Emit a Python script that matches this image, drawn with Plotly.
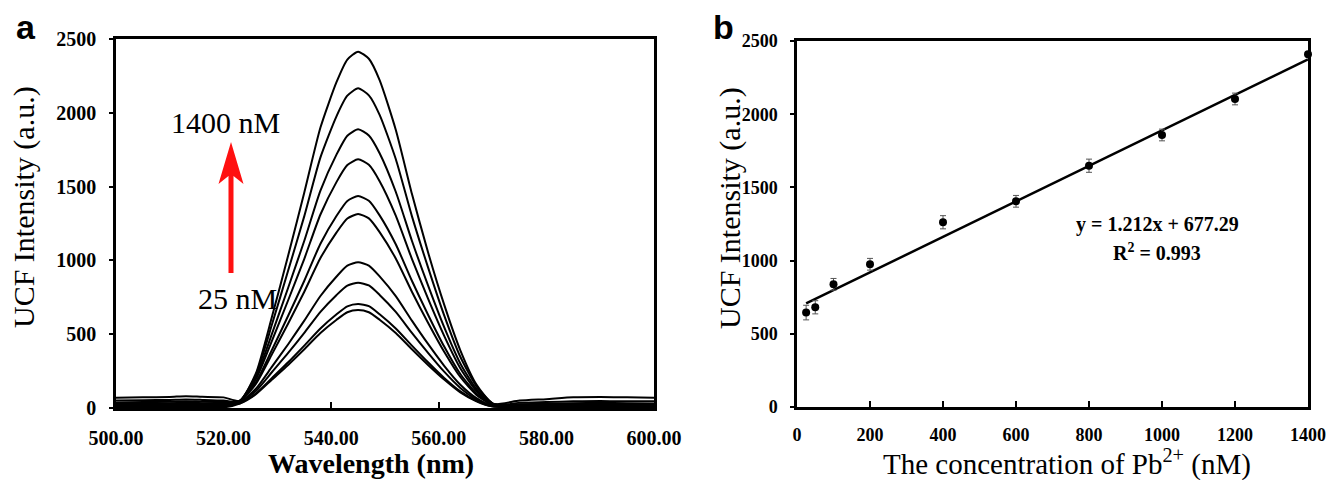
import plotly.graph_objects as go

# ---------------- Panel a: UCF emission spectra ----------------
wavelengths = [500, 505, 510, 513, 516, 520, 523, 526, 529, 532, 535, 538, 541, 543, 545,
               547, 549, 552, 555, 558, 561, 564, 567, 570, 575, 580, 585, 590, 595, 600]

spec_1400 = [14, 14, 15, 16, 15, 14, 41, 234, 620, 1033, 1460, 1900, 2209, 2361, 2414,
             2366, 2221, 1885, 1451, 1055, 700, 391, 159, 30, 10, 12, 12, 12, 11, 10]
spec_1200 = [8, 8, 9, 10, 9, 8, 45, 223, 567, 931, 1300, 1698, 1978, 2116, 2166,
             2118, 1986, 1687, 1300, 953, 628, 347, 147, 32, 8, 8, 8, 8, 8, 8]
spec_1000 = [25, 24, 25, 28, 26, 24, 48, 208, 504, 815, 1133, 1473, 1718, 1845, 1888,
             1846, 1726, 1465, 1133, 831, 548, 302, 128, 28, 18, 20, 22, 22, 20, 20]
spec_800 = [70, 72, 75, 80, 76, 72, 49, 194, 457, 730, 1011, 1311, 1532, 1646, 1685,
            1648, 1537, 1304, 1011, 741, 489, 270, 115, 26, 50, 60, 72, 74, 72, 70]
spec_600 = [10, 10, 11, 12, 11, 10, 47, 174, 395, 625, 862, 1113, 1302, 1403, 1436,
            1404, 1305, 1109, 862, 632, 416, 230, 98, 22, 6, 6, 6, 6, 6, 6]
spec_400 = [38, 40, 42, 45, 42, 40, 46, 163, 365, 573, 788, 1016, 1190, 1284, 1314,
            1285, 1192, 1013, 788, 578, 381, 210, 89, 20, 25, 28, 32, 34, 32, 30]
spec_200 = [50, 52, 55, 58, 55, 50, 40, 130, 280, 432, 592, 759, 891, 964, 987,
            965, 892, 758, 592, 434, 286, 158, 67, 15, 35, 40, 45, 48, 45, 45]
spec_100 = [18, 18, 20, 22, 20, 18, 36, 115, 244, 373, 509, 651, 766, 829, 849,
            830, 766, 651, 509, 374, 246, 136, 58, 13, 14, 15, 16, 16, 15, 15]
spec_50 = [30, 32, 33, 35, 33, 30, 31, 98, 204, 310, 423, 539, 635, 689, 705,
           690, 635, 539, 423, 310, 204, 113, 48, 11, 22, 25, 28, 28, 26, 25]
spec_25 = [4, 4, 5, 5, 5, 4, 30, 93, 193, 292, 398, 508, 598, 649, 664,
           649, 598, 508, 398, 292, 193, 106, 46, 10, 4, 4, 4, 4, 4, 4]

spectra = [spec_1400, spec_1200, spec_1000, spec_800, spec_600,
           spec_400, spec_200, spec_100, spec_50, spec_25]

# ---------------- Panel b: calibration ----------------
conc = [25, 50, 100, 200, 400, 600, 800, 1000, 1200, 1400]
intensity = [645, 681, 838, 975, 1262, 1405, 1648, 1858, 2104, 2409]
err = [50, 45, 40, 40, 45, 40, 45, 40, 40, 10]
SLOPE, INTERCEPT = 1.212, 677.29
fit_x = [conc[0], conc[-1]]
fit_y = [SLOPE * v + INTERCEPT for v in fit_x]

x_ticks_a = [500, 520, 540, 560, 580, 600]
y_ticks = [0, 500, 1000, 1500, 2000, 2500]
x_ticks_b = [0, 200, 400, 600, 800, 1000, 1200, 1400]

W, H = 1328, 480
def fx(p):
    return p / W
def fy(p):
    return 1 - p / H

SERIF = "Liberation Serif, Times New Roman, serif"
SANS = "Liberation Sans, Arial, sans-serif"

fig = go.Figure()
for s in spectra:
    fig.add_trace(go.Scatter(x=wavelengths, y=s, mode="lines",
                             line=dict(color="black", width=2, shape="spline", smoothing=0.6),
                             xaxis="x", yaxis="y", showlegend=False, hoverinfo="skip"))

fig.add_trace(go.Scatter(x=fit_x, y=fit_y, mode="lines",
                         line=dict(color="black", width=2.5),
                         xaxis="x2", yaxis="y2", showlegend=False))
fig.add_trace(go.Scatter(x=conc, y=intensity, mode="markers",
                         marker=dict(size=8, color="black"),
                         error_y=dict(type="data", array=err, color="#555555", thickness=1, width=3),
                         xaxis="x2", yaxis="y2", showlegend=False, cliponaxis=False))

axis_common = dict(showgrid=False, zeroline=False, showline=True, linecolor="black",
                   linewidth=2.5, mirror=True, tickcolor="black", tickwidth=2,
                   automargin=False, ticklabeloverflow="allow")

fig.update_layout(
    width=W, height=H,
    margin=dict(l=0, r=0, t=0, b=0, pad=0, autoexpand=False),
    paper_bgcolor="white", plot_bgcolor="white",
    showlegend=False,
    xaxis=dict(domain=[fx(116), fx(654)], anchor="y", range=[500, 600],
               tickvals=x_ticks_a, tickformat=".2f", ticks="inside", ticklen=6,
               ticklabelstandoff=10,
               tickfont=dict(family=SERIF, size=20, color="black", weight="bold"), **axis_common),
    yaxis=dict(domain=[fy(408), fy(39)], anchor="x", range=[0, 2500],
               tickvals=y_ticks, ticks="outside", ticklen=4, ticklabelstandoff=9,
               tickfont=dict(family=SERIF, size=20, color="black", weight="bold"), **axis_common),
    xaxis2=dict(domain=[fx(797), fx(1308)], anchor="y2", range=[0, 1400],
                tickvals=x_ticks_b, ticks="inside", ticklen=6, ticklabelstandoff=10,
                tickfont=dict(family=SERIF, size=18, color="black", weight="bold"), **axis_common),
    yaxis2=dict(domain=[fy(407), fy(41)], anchor="x2", range=[0, 2500],
                tickvals=y_ticks, ticks="outside", ticklen=4, ticklabelstandoff=9,
                tickfont=dict(family=SERIF, size=18, color="black", weight="bold"), **axis_common),
)

ann = []
def add_text(text, x, y, size, family=SERIF, bold=False, angle=0):
    ann.append(dict(text=text, x=fx(x), y=fy(y), xref="paper", yref="paper",
                    xanchor="center", yanchor="middle", showarrow=False, textangle=angle,
                    font=dict(family=family, size=size, color="black",
                              weight="bold" if bold else "normal")))

add_text("a", 26, 27, 34, family=SANS, bold=True)
add_text("b", 723, 27, 34, family=SANS, bold=True)
add_text("UCF Intensity (a.u.)", 24, 207, 30, angle=-90)
add_text("UCF Intensity (a.u.)", 730, 208, 30, angle=-90)
add_text("Wavelength (nm)", 371, 463, 28, bold=True)
add_text("The concentration of Pb<sup>2+</sup> (nM)", 1067, 462, 29)
add_text("1400 nM", 225, 122, 30)
add_text("25 nM", 237, 298, 30)
add_text("y = 1.212x + 677.29", 1157, 224, 20, bold=True)
add_text("R<sup>2</sup> = 0.993", 1157, 252, 20, bold=True)
fig.update_layout(annotations=ann)

# red arrow (decoration) in paper coordinates
def P(x, y):
    return f"{fx(x):.5f},{fy(y):.5f}"
arrow_path = ("M " + P(228.5, 273) + " L " + P(228.5, 176) + " L " + P(218.5, 184) +
              " L " + P(231, 142) + " L " + P(243.5, 184) + " L " + P(233.5, 176) +
              " L " + P(233.5, 273) + " Z")
fig.add_shape(type="path", path=arrow_path, xref="paper", yref="paper",
              fillcolor="#ff1010", line=dict(color="#ff1010", width=0))

# remove the default 8px page margin so the figure fills the window exactly
fig.write_html("out.html", config={"displayModeBar": False},
               post_script="document.body.style.margin='0';")
